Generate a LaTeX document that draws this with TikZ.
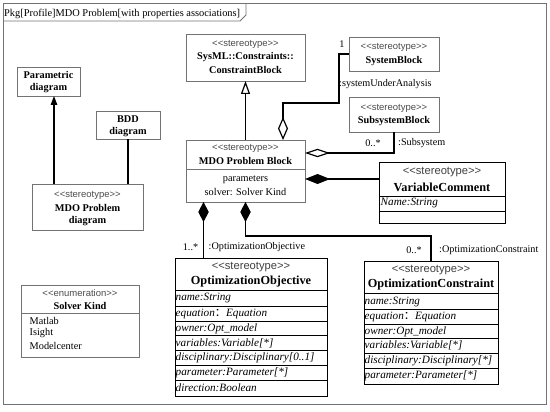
\documentclass[tikz,border=0pt]{standalone}
\usepackage{fontspec}
\setmainfont{Liberation Serif}
\setsansfont{Liberation Sans}
\newfontfamily\cjk{Noto Sans CJK SC}
\usetikzlibrary{arrows.meta,fit}
\newcommand\ster[1]{<\kern0pt<#1>\kern0pt>}
\tikzset{
 gbox/.style={draw=black!55, line width=0.7pt, inner sep=0pt, outer sep=0pt},
 kbox/.style={draw=black, line width=1pt, inner sep=0pt, outer sep=0pt},
 gdiv/.style={draw=black!55, line width=0.7pt},
 kdiv/.style={draw=black, line width=0.9pt},
 conn/.style={draw=black, line width=1.2pt},
 st/.style={font=\sffamily\fontsize{9.5}{10}\selectfont, text=black!70, inner sep=0pt},
 stl/.style={font=\sffamily\fontsize{11.2}{12}\selectfont, text=black!75, inner sep=0pt},
 ttl/.style={font=\bfseries\fontsize{10.3}{11}\selectfont, inner sep=0pt},
 ttll/.style={font=\bfseries\fontsize{12.3}{13}\selectfont, inner sep=0pt},
 txt/.style={font=\fontsize{10.3}{11}\selectfont, inner sep=0pt},
 attr/.style={font=\itshape\fontsize{11.2}{12}\selectfont, inner sep=0pt, anchor=west},
 lbl/.style={font=\fontsize{10.2}{11}\selectfont, inner sep=0pt},
}
\begin{document}
\begin{tikzpicture}[x=1pt,y=-1pt]
\useasboundingbox (0,0) rectangle (550,412);
% frame
\node[draw=black!55, line width=1pt, inner sep=0pt, fit={(3,4) (546,404)}] (frame) {};
\draw[draw=black!55, line width=0.8pt] (3,21) -- (240,21) -- (246,15) -- (246,4);
\node[font=\fontsize{10.4}{11}\selectfont, anchor=west, inner sep=0pt] (title) at (4,14) {Pkg[Profile]MDO Problem[with properties associations]};

% boxes
\node[gbox, fit={(17,67) (80,96)}] (para) {};
\node[ttl] at (48.5,75) {Parametric};
\node[ttl] at (48.5,88) {diagram};

\node[gbox, fit={(96,111) (160,139)}] (bdd) {};
\node[ttl] at (128,119) {BDD};
\node[ttl] at (128,132) {diagram};

\node[gbox, fit={(32,184) (143,230)}] (mdodiag) {};
\node[st] at (87.5,195) {\ster{stereotype}};
\node[ttl] at (87.5,208) {MDO Problem};
\node[ttl] at (87.5,221) {diagram};

\node[gbox, fit={(186,34) (305,81)}] (cblock) {};
\node[st] at (245.5,44) {\ster{stereotype}};
\node[ttl] at (245.5,57) {SysML::Constraints::};
\node[ttl] at (245.5,70) {ConstraintBlock};

\node[gbox, fit={(349,37) (439,71)}] (sysblock) {};
\node[st] at (394,47) {\ster{stereotype}};
\node[ttl] at (394,61) {SystemBlock};

\node[gbox, fit={(349,97) (439,132)}] (subblock) {};
\node[st] at (394,108) {\ster{stereotype}};
\node[ttl] at (394,121) {SubsystemBlock};

\node[gbox, fit={(186,140) (305,202)}] (mdoblock) {};
\draw[gdiv] (186,169) -- (305,169);
\node[st] at (245.5,148) {\ster{stereotype}};
\node[ttl] at (245.5,161) {MDO Problem Block};
\node[txt] at (245.5,180) {parameters};
\node[txt] at (245.5,192) {solver: Solver Kind};

\node[kbox, fit={(379,163) (505,224)}] (varcomm) {};
\draw[kdiv] (379,196) -- (505,196);
\draw[kdiv] (379,211) -- (505,211);
\node[stl] at (442,172) {\ster{stereotype}};
\node[ttll] at (442,187) {VariableComment};
\node[attr] at (380.5,203) {Name:String};

\node[kbox, fit={(175,258) (327,396)}] (objective) {};
\foreach \yy in {290,306,321,335,350,365,380} \draw[kdiv] (175,\yy) -- (327,\yy);
\node[stl] at (251,267) {\ster{stereotype}};
\node[ttll] at (251,282) {OptimizationObjective};
\node[attr] at (175.5,298) {name:String};
\node[attr] at (175.5,314) {equation{\cjk ：}Equation};
\node[attr] at (175.5,328.5) {owner:Opt\_model};
\node[attr] at (175.5,343) {variables:Variable[*]};
\node[attr] at (175.5,358) {disciplinary:Disciplinary[0..1]};
\node[attr] at (175.5,373) {parameter:Parameter[*]};
\node[attr] at (175.5,388) {direction:Boolean};

\node[kbox, fit={(364,261) (498,384)}] (constraint) {};
\foreach \yy in {293,309,324,338,353,368} \draw[kdiv] (364,\yy) -- (498,\yy);
\node[stl] at (431,270) {\ster{stereotype}};
\node[ttll] at (431,285) {OptimizationConstraint};
\node[attr] at (364.5,301.5) {name:String};
\node[attr] at (364.5,317) {equation{\cjk ：}Equation};
\node[attr] at (364.5,331.5) {owner:Opt\_model};
\node[attr] at (364.5,345.5) {variables:Variable[*]};
\node[attr] at (364.5,360.5) {disciplinary:Disciplinary[*]};
\node[attr] at (364.5,376) {parameter:Parameter[*]};

\node[gbox, fit={(21,285) (139,357)}] (solver) {};
\draw[gdiv] (21,313) -- (139,313);
\node[st] at (80,293) {\ster{enumeration}};
\node[ttl] at (80,306) {Solver Kind};
\node[txt, anchor=west] at (29.5,321) {Matlab};
\node[txt, anchor=west] at (29.5,333.5) {Isight};
\node[txt, anchor=west] at (29.5,346) {Modelcenter};

% helper coordinates
\coordinate (c54) at (54,0);
\coordinate (c283) at (283,0);
\coordinate (k1) at (339,103);
\coordinate (k2) at (0,153);
\coordinate (k3) at (0,179);
\coordinate (k4) at (203.5,0);

% connectors
\draw[conn, -{Triangle[width=6.5pt,length=9pt]}] (mdodiag.north -| c54) -- (para.south -| c54);
\draw[conn] (bdd.south) -- (mdodiag.north -| bdd.south);
\draw[conn, -{Triangle[open,width=9pt,length=13pt,fill=white]}] (mdoblock.north) -- (cblock.south);
\draw[conn, {Diamond[open,width=10pt,length=23pt,fill=white]}-] (mdoblock.north -| c283) |- (k1) |- (sysblock.west);
\draw[conn, {Diamond[open,width=8.5pt,length=25pt,fill=white]}-] (mdoblock.east |- k2) -| (subblock.south);
\draw[conn, {Diamond[width=10pt,length=25pt]}-] (mdoblock.east |- k3) -- (varcomm.west |- k3);
\draw[conn, {Diamond[width=10.5pt,length=20pt]}-] (mdoblock.south -| k4) -- (objective.north -| k4);
\draw[conn, {Diamond[width=10.5pt,length=20pt]}-] (mdoblock.south) -- ++(0,34) -| (constraint.north);

% labels
\node[lbl] (l1) at (342,44) {1};
\node[lbl, anchor=west] (l2) at (339,84) {:systemUnderAnalysis};
\node[lbl] (l3) at (373,143) {0..*};
\node[lbl, anchor=west] (l4) at (398,143) {:Subsystem};
\node[lbl] (l5) at (190.5,247) {1..*};
\node[lbl, anchor=west] (l6) at (208.5,247) {:OptimizationObjective};
\node[lbl] (l7) at (414,250) {0..*};
\node[lbl, anchor=west] (l8) at (439,250) {:OptimizationConstraint};
\end{tikzpicture}
\end{document}
